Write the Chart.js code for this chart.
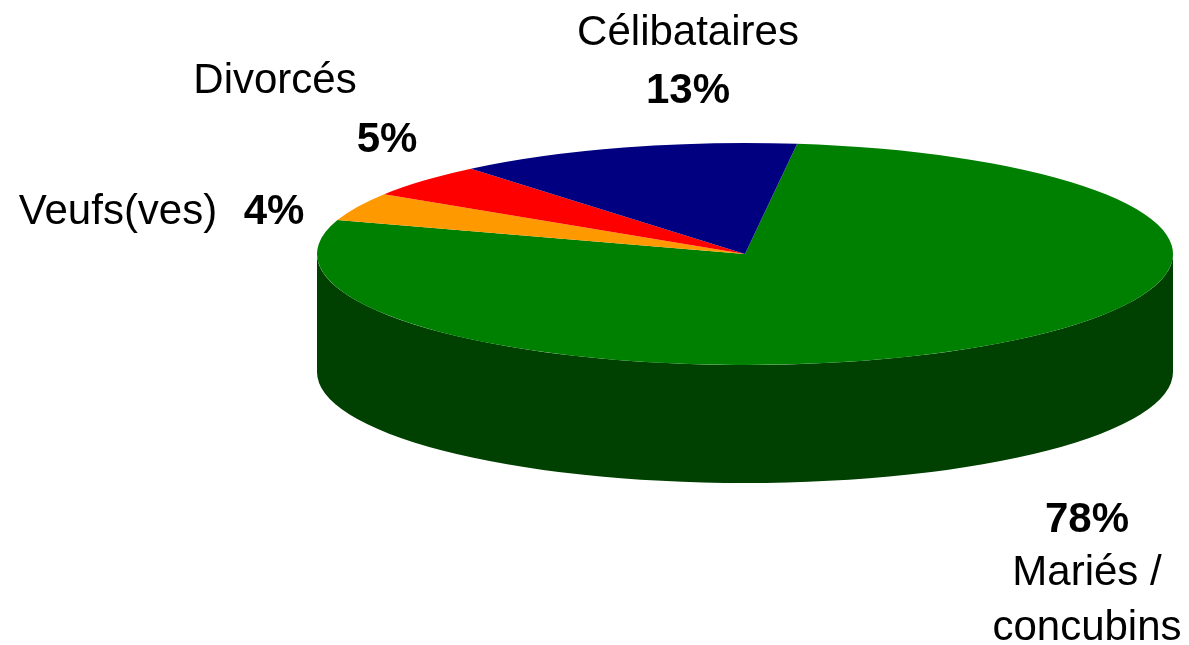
<!DOCTYPE html>
<html lang="fr">
<head>
<meta charset="utf-8">
<title>Situation familiale</title>
<script src="https://cdn.jsdelivr.net/npm/chart.js@4/dist/chart.umd.min.js"></script>
<style>
  html, body { margin: 0; padding: 0; background: #fff; overflow: hidden; }
  canvas { display: block; }
</style>
</head>
<body>
<canvas id="pie" width="1189" height="645"></canvas>
<script>
const categories = ['Mariés / concubins', 'Veufs(ves)', 'Divorcés', 'Célibataires'];
const shares = [78, 4.1, 4.9, 13];
const percentLabels = ['78%', '4%', '5%', '13%'];
const topColors = ['#008000', '#ff9900', '#ff0000', '#000080'];
const sideColors = ['#004000', '#804c00', '#800000', '#000040'];

// the flattened disc on the page
const disc = { x: 745, y: 254, rx: 428, ry: 111, depth: 118 };

const labelFont = '42px "Liberation Sans", Arial, sans-serif';
const percentFont = 'bold 42px "Liberation Sans", Arial, sans-serif';

// chart.js only draws round pies, so squash it and add the side wall
const tiltPlugin = {
  id: 'tilt',
  beforeDatasetsDraw(chart) {
    const ctx = chart.ctx;
    const arcs = chart.getDatasetMeta(0).data;

    arcs.forEach((arc, i) => {
      const start = Math.max(arc.startAngle, 0);
      const end = Math.min(arc.endAngle, Math.PI);
      if (end <= start) return;
      ctx.beginPath();
      ctx.ellipse(disc.x, disc.y, disc.rx, disc.ry, 0, start, end);
      ctx.ellipse(disc.x, disc.y + disc.depth, disc.rx, disc.ry, 0, end, start, true);
      ctx.closePath();
      ctx.fillStyle = sideColors[i];
      ctx.fill();
    });

    const first = arcs[0];
    ctx.save();
    ctx.translate(disc.x, disc.y);
    ctx.scale(disc.rx / first.outerRadius, disc.ry / first.outerRadius);
    ctx.translate(-first.x, -first.y);
  },
  afterDatasetsDraw(chart) {
    chart.ctx.restore();
  }
};

const labelsPlugin = {
  id: 'sliceLabels',
  afterDraw(chart) {
    const ctx = chart.ctx;
    const put = (text, font, x, y) => {
      ctx.font = font;
      ctx.fillText(text, x, y);
    };
    ctx.save();
    ctx.fillStyle = '#000';
    ctx.textAlign = 'center';
    ctx.textBaseline = 'alphabetic';

    put(categories[3], labelFont, 688, 45);
    put(percentLabels[3], percentFont, 688, 103);

    put(categories[2], labelFont, 275, 93);
    put(percentLabels[2], percentFont, 387, 152);

    put(categories[1], labelFont, 118, 224);
    put(percentLabels[1], percentFont, 274, 224);

    put(percentLabels[0], percentFont, 1087, 532);
    put('Mariés /', labelFont, 1087, 585);
    put('concubins', labelFont, 1087, 640);
    ctx.restore();
  }
};

new Chart(document.getElementById('pie'), {
  type: 'pie',
  data: {
    labels: categories,
    datasets: [
      {
        data: shares,
        backgroundColor: topColors,
        borderWidth: 0,
      },
    ]
  },
  options: {
    responsive: false,
    animation: false,
    rotation: 7,
    radius: 300,
    plugins: {
      legend: { display: false },
      tooltip: { enabled: false },
    },
  },
  plugins: [tiltPlugin, labelsPlugin],
});
</script>
</body>
</html>
